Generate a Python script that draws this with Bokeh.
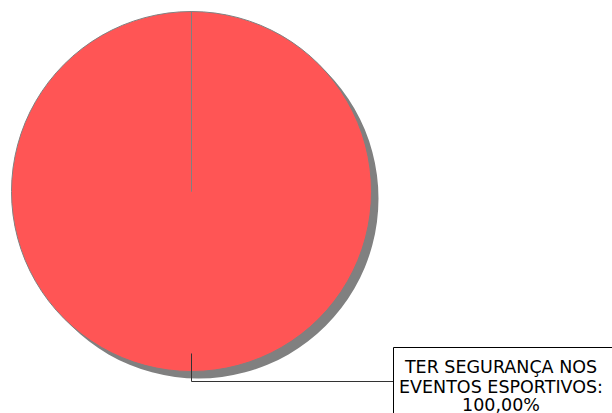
import numpy as np
from bokeh.plotting import figure
from bokeh.models import Range1d
from bokeh.core.properties import value
from bokeh.embed import file_html
from bokeh.resources import INLINE

categories = ["TER SEGURANÇA NOS EVENTOS ESPORTIVOS"]
values = [100.0]
label_lines = ["TER SEGURANÇA NOS", "EVENTOS ESPORTIVOS:", "100,00%"]

W, H = 612, 413
p = figure(width=W, height=H, output_backend="svg", toolbar_location=None,
           x_range=Range1d(0, W), y_range=Range1d(0, H), min_border=0)
p.axis.visible = False
p.grid.visible = False
p.outline_line_color = None
p.background_fill_color = "white"

cx, cy, r = 191, 222, 180
total = sum(values)
fr = np.array(values) / total
ends = np.pi / 2 - np.cumsum(fr) * 2 * np.pi
starts = np.concatenate([[np.pi / 2], ends[:-1]])
# avoid a zero-length arc for a full 100% slice
ends_adj = [e + 1e-5 if abs(s - e - 2 * np.pi) < 1e-9 else e for s, e in zip(starts, ends)]

# shadow
p.wedge(x=[cx + 7] * len(values), y=[cy - 7] * len(values), radius=r,
        start_angle=ends_adj, end_angle=list(starts),
        fill_color="#808080", line_color=None)
p.wedge(x=[cx] * len(values), y=[cy] * len(values), radius=r,
        start_angle=ends_adj, end_angle=list(starts),
        fill_color="#FF5555", line_color="#808080", line_width=1)

# leader line
p.line(x=[cx, cx, 393], y=[60, 32, 32], line_color="#333333", line_width=1)
# label box
p.quad(left=[393], right=[720], bottom=[-60], top=[66],
       fill_color="white", line_color="black", line_width=1)

pct = f"{values[0]:.2f}".replace(".", ",") + "%"
lines = [label_lines[0], label_lines[1], pct]
p.text(x=[500.5] * 3, y=[46.5, 27, 8.5], text=lines,
       text_font=value("DejaVu Sans"), text_font_size="17.5px",
       text_align="center", text_baseline="alphabetic", text_color="black")

open("out.html", "w").write(file_html(p, INLINE))
